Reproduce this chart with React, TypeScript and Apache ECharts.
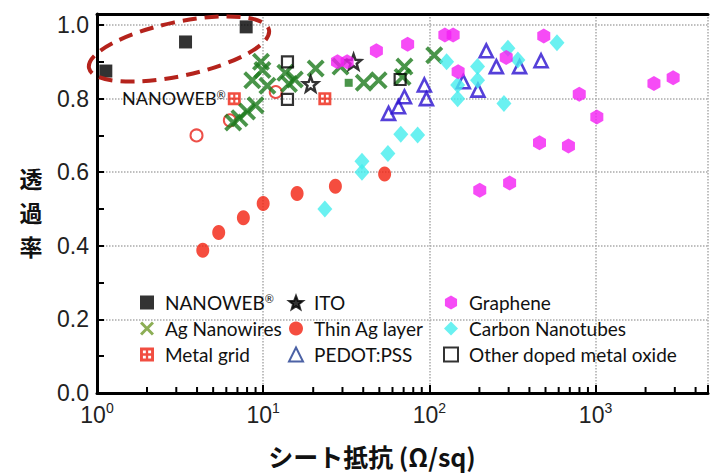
import React, { useEffect, useRef } from 'react';
import * as echarts from 'echarts';

// ---- data (sheet resistance in Ω/sq, transmittance) ----
const nanowebData = [[1.13, 0.875], [3.41, 0.954], [7.9, 0.995]];
const agNanowiresData = [
  [6.6, 0.735], [7.2, 0.747], [8.0, 0.765], [9.0, 0.782], [8.6, 0.85], [9.7, 0.9],
  [9.9, 0.878], [10.6, 0.835], [13.6, 0.87], [14.3, 0.84], [15.5, 0.852], [20.7, 0.882],
  [29.2, 0.887], [40.3, 0.843], [49.5, 0.85], [69, 0.859], [70.8, 0.887], [107, 0.918],
];
const agNanowireSquareData = [[32.7, 0.843]];
const metalGridData = [[6.7, 0.8], [23.5, 0.8]];
const itoData = [[19.3, 0.84], [35, 0.9]];
const thinAgData = [[4.33, 0.388], [5.4, 0.436], [7.6, 0.476], [10.0, 0.515], [16.0, 0.542], [27.2, 0.562], [53.8, 0.595]];
const thinAgOpenData = [[3.97, 0.7], [6.3, 0.741], [11.9, 0.818]];
const pedotData = [
  [56.8, 0.76], [65.2, 0.778], [70.8, 0.805], [93.3, 0.837], [96, 0.8], [160, 0.846],
  [196, 0.823], [220, 0.93], [253, 0.887], [349, 0.887], [470, 0.903],
];
const grapheneData = [
  [28, 0.9], [32, 0.9], [48, 0.93], [74, 0.948], [124, 0.973], [139, 0.973], [149, 0.873],
  [201, 0.551], [290, 0.912], [304, 0.571], [460, 0.68], [488, 0.97], [687, 0.671],
  [798, 0.812], [1018, 0.75], [2246, 0.841], [2931, 0.857],
];
const cntData = [
  [23.5, 0.5], [39.3, 0.6], [39.3, 0.63], [56.3, 0.651], [67.3, 0.703], [85, 0.701],
  [127, 0.9], [148, 0.837], [148, 0.8], [195, 0.887], [195, 0.85], [281, 0.787],
  [297, 0.937], [341, 0.905], [586, 0.952],
];
const otherOxideData = [[14, 0.9], [14, 0.798], [66.7, 0.852]];

const xMin = 1;
const xMax = 4750;
const yMin = 0;
const yMax = 1.03;
const decades = [1, 10, 100, 1000];
const minorMultipliers = [2, 3, 4, 5, 6, 7, 8, 9];

const legendCols = [
  ['NANOWEB®', 'Ag Nanowires', 'Metal grid'],
  ['ITO', 'Thin Ag layer', 'PEDOT:PSS'],
  ['Graphene', 'Carbon Nanotubes', 'Other doped metal oxide'],
];
const yTitleChars = ['透', '過', '率'];
const xTitle = 'シート抵抗 (Ω/sq)';

const X_PATH = 'path://M3,0 L10,7 L17,0 L20,3 L13,10 L20,17 L17,20 L10,13 L3,20 L0,17 L7,10 L0,3 Z';
const STAR_PATH = 'path://M10,0 L12.47,6.6 L19.51,6.91 L14,11.3 L15.88,18.09 L10,14.2 L4.12,18.09 L6,11.3 L0.49,6.91 L7.53,6.6 Z';
const HEX_PATH = 'path://M10,0 L18.66,5 L18.66,15 L10,20 L1.34,15 L1.34,5 Z';
const GRID_PATH = 'path://M0,0 L12,0 L12,12 L0,12 Z M2.5,2.5 L2.5,5 L5,5 L5,2.5 Z M7,2.5 L7,5 L9.5,5 L9.5,2.5 Z M2.5,7 L2.5,9.5 L5,9.5 L5,7 Z M7,7 L7,9.5 L9.5,9.5 L9.5,7 Z';

export default function App() {
  const ref = useRef<HTMLDivElement>(null);
  useEffect(() => {
    document.body.style.margin = '0';
    const chart = echarts.init(ref.current!, null, { renderer: 'svg' });
    const minorTicks: number[][] = [];
    decades.forEach((d) => minorMultipliers.forEach((m) => {
      if (d * m < xMax) minorTicks.push([d * m, 0]);
    }));
    const legendBase = {
      orient: 'vertical',
      itemWidth: 14,
      itemHeight: 14,
      itemGap: 7,
      top: 288,
      textStyle: {
        fontFamily: 'Lato', fontSize: 19, color: '#111', padding: [0, 0, 0, 6],
        rich: {
          a: { fontFamily: 'Lato', fontSize: 19, color: '#111' },
          r: { fontFamily: 'Lato', fontSize: 11, color: '#111', verticalAlign: 'top', lineHeight: 12 },
        },
      },
      formatter: (n: string) => (n === 'NANOWEB®' ? '{a|NANOWEB}{r|®}' : n),
    };
    const option: any = {
      animation: false,
      grid: { left: 97, top: 14, right: 0, bottom: 83 },
      xAxis: [
        {
          type: 'log', logBase: 10, min: xMin, max: xMax,
          axisLine: { lineStyle: { color: '#000', width: 3 } },
          axisTick: { inside: true, length: 8, lineStyle: { color: '#000', width: 2 } },
          axisLabel: {
            margin: 8,
            formatter: (v: number) => {
              const e = Math.log10(v);
              if (Math.abs(e - Math.round(e)) > 1e-6) return '';
              return `{b|10}{s|${Math.round(e)}}`;
            },
            rich: {
              b: { fontFamily: 'Liberation Sans', fontSize: 23, color: '#222', lineHeight: 28 },
              s: { fontFamily: 'Liberation Sans', fontSize: 14, color: '#222', lineHeight: 15, verticalAlign: 'top' },
            },
          },
          splitLine: { show: true, lineStyle: { color: '#aaa', type: 'dotted', width: 1.5 } },
        },
        {
          type: 'log', logBase: 10, min: xMin, max: xMax, position: 'top',
          axisLine: { show: true, lineStyle: { color: '#000', width: 3 } },
          axisTick: { show: false }, axisLabel: { show: false }, splitLine: { show: false },
        },
      ],
      yAxis: {
        type: 'value', min: yMin, max: yMax, interval: 0.2,
        axisLine: { show: true, lineStyle: { color: '#000', width: 3 } },
        axisTick: { inside: true, length: 7, lineStyle: { color: '#000', width: 2 } },
        minorTick: { show: true, splitNumber: 2, length: 7, lineStyle: { color: '#000', width: 2 } },
        axisLabel: {
          margin: 8, fontFamily: 'Liberation Sans', fontSize: 23, color: '#222',
          formatter: (v: number) => (Math.abs(v * 5 - Math.round(v * 5)) < 1e-6 ? v.toFixed(1) : ''),
        },
        splitLine: { show: true, lineStyle: { color: '#aaa', type: 'dotted', width: 1.5 } },
      },
      legend: [
        { ...legendBase, left: 135, data: legendCols[0].map((n) => (n === 'Ag Nanowires' ? { name: n, itemStyle: { color: '#6f9a2a' } } : n)) },
        { ...legendBase, left: 283, data: legendCols[1].map((n) => (n === 'ITO' ? { name: n, itemStyle: { color: '#000' } } : n === 'PEDOT:PSS' ? { name: n, itemStyle: { borderColor: '#1f3b8f' } } : n)) },
        { ...legendBase, left: 438, data: legendCols[2] },
      ],
      graphic: [
        {
          type: 'ellipse', x: 179, y: 49, rotation: 0.21, z: 100,
          shape: { cx: 0, cy: 0, rx: 92, ry: 27 },
          style: { fill: 'none', stroke: '#b5231c', lineWidth: 4, lineDash: [14, 8] },
        },
        {
          type: 'text', left: 122, top: 89, z: 100,
          style: {
            text: '{a|NANOWEB}{r|®}',
            rich: {
              a: { fontFamily: 'Lato', fontSize: 18, fill: '#111' },
              r: { fontFamily: 'Lato', fontSize: 11, fill: '#111', verticalAlign: 'top', lineHeight: 12 },
            },
          },
        },
        ...yTitleChars.map((c, i) => ({
          type: 'text', x: 31, y: 178 + i * 34, z: 100,
          style: { text: c, font: 'bold 23px "Noto Sans CJK JP"', fill: '#111', align: 'center', verticalAlign: 'middle' },
        })),
        {
          type: 'text', x: 372, y: 456, z: 100,
          style: { text: xTitle, font: 'bold 25px "Noto Sans CJK JP"', fill: '#111', align: 'center', verticalAlign: 'middle' },
        },
      ],
      series: [
        {
          type: 'custom', silent: true, data: minorTicks, z: 5,
          renderItem: (_p: any, api: any) => {
            const pt = api.coord([api.value(0), 0]);
            return { type: 'line', shape: { x1: pt[0], y1: pt[1], x2: pt[0], y2: pt[1] - 6 }, style: { stroke: '#000', lineWidth: 2 } };
          },
        },
        { name: 'NANOWEB®', type: 'scatter', data: nanowebData, symbol: 'rect', symbolSize: 13, itemStyle: { color: '#000' } },
        { name: 'Metal grid', type: 'scatter', data: metalGridData, symbol: GRID_PATH, symbolSize: 13, itemStyle: { color: '#ee2211' } },
        { name: 'Thin Ag layer (open)', type: 'scatter', data: thinAgOpenData, symbol: 'circle', symbolSize: 12, itemStyle: { color: 'rgba(0,0,0,0)', borderColor: '#e8231a', borderWidth: 2 } },
        { name: 'Ag Nanowires', type: 'scatter', data: agNanowiresData, symbol: X_PATH, symbolSize: 18, itemStyle: { color: '#1d7a1d' } },
        { name: 'Ag Nanowires (sq)', type: 'scatter', data: agNanowireSquareData, symbol: 'rect', symbolSize: 8, itemStyle: { color: '#1d7a1d' } },
        { name: 'Other doped metal oxide', type: 'scatter', data: otherOxideData, symbol: 'rect', symbolSize: 11, itemStyle: { color: 'rgba(0,0,0,0)', borderColor: '#000', borderWidth: 2.2 } },
        { name: 'ITO', type: 'scatter', data: itoData, symbol: STAR_PATH, symbolSize: 15, itemStyle: { color: 'rgba(0,0,0,0)', borderColor: '#000', borderWidth: 2.5 } },
        { name: 'PEDOT:PSS', type: 'scatter', data: pedotData, symbol: 'triangle', symbolSize: 13, itemStyle: { color: 'rgba(0,0,0,0)', borderColor: '#2a10d0', borderWidth: 2.6 } },
        { name: 'Thin Ag layer', type: 'scatter', data: thinAgData, symbol: 'circle', symbolSize: [13, 15], itemStyle: { color: '#f2200f' } },
        { name: 'Carbon Nanotubes', type: 'scatter', data: cntData, symbol: 'diamond', symbolSize: [15, 17], itemStyle: { color: '#45eeee' } },
        { name: 'Graphene', type: 'scatter', data: grapheneData, symbol: HEX_PATH, symbolSize: [13, 15], itemStyle: { color: '#f41ef4' } },
      ],
    };
    chart.setOption(option);
    return () => chart.dispose();
  }, []);
  return <div ref={ref} style={{ width: 711, height: 476 }} />;
}
